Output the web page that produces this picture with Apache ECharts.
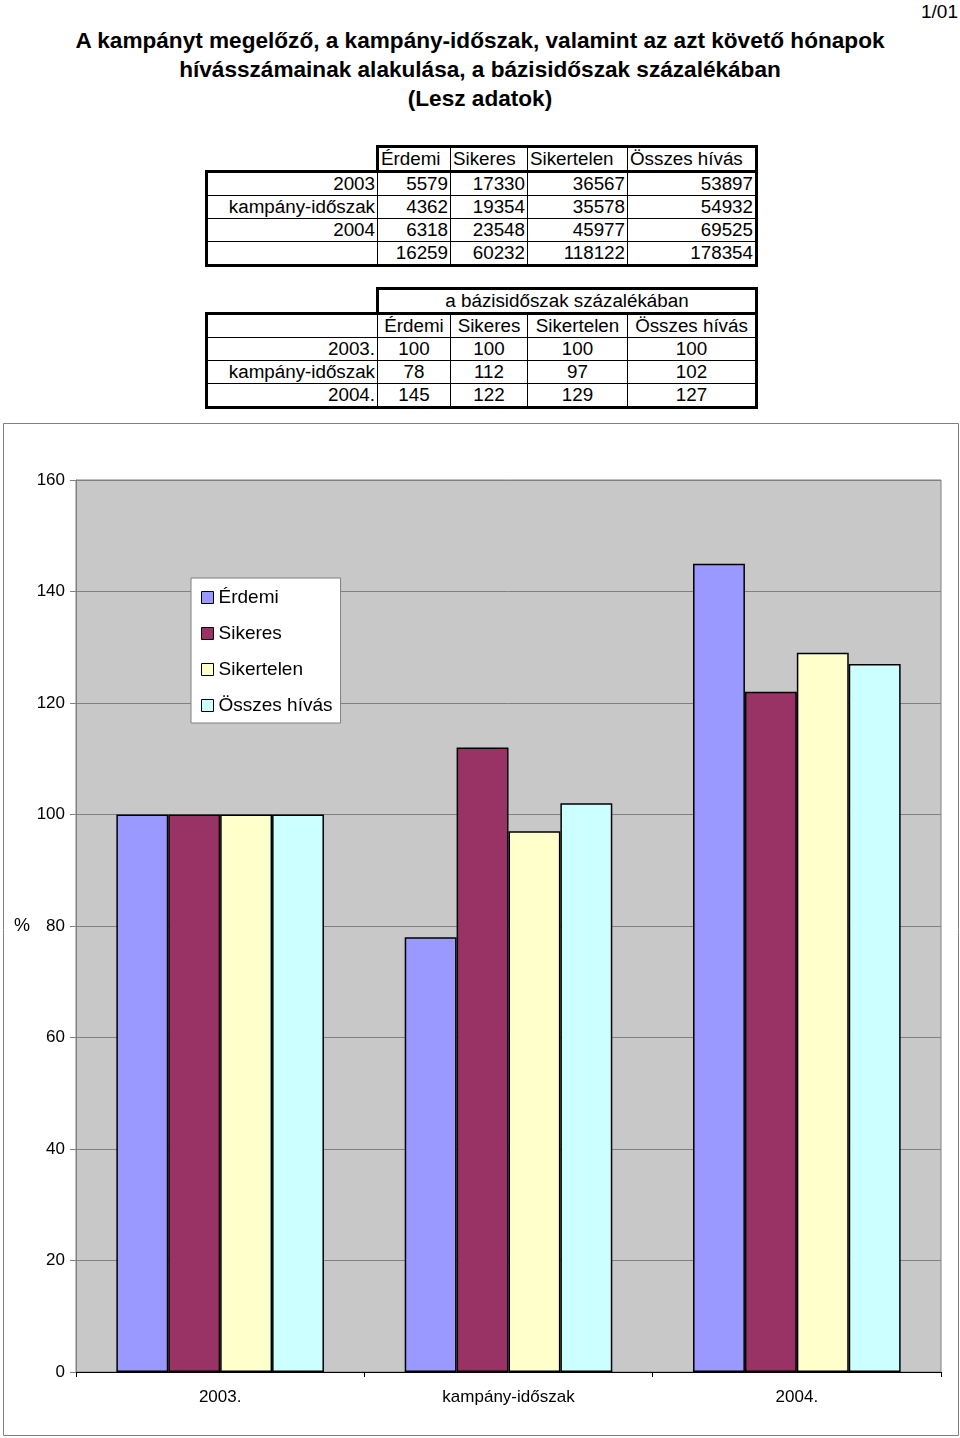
<!DOCTYPE html>
<html lang="hu">
<head>
<meta charset="utf-8">
<title>Lesz adatok</title>
<script src="https://cdn.jsdelivr.net/npm/echarts@6/dist/echarts.min.js"></script>
<style>
  body { margin: 0; background: #fff; font-family: "Liberation Sans", Arial, sans-serif; color: #000; }
  .page { position: relative; width: 960px; height: 1438px; overflow: hidden; }
  .pageno { position: absolute; right: 2px; top: 1px; font-size: 19px; }
  .title { position: absolute; left: 0; top: 26px; width: 960px; text-align: center;
           font-weight: bold; font-size: 22.6px; line-height: 29px; }
  table.grid { position: absolute; left: 205px; border-collapse: collapse; font-size: 18.8px; }
  table.grid td { border: 1px solid #000; padding: 0 2px; height: 22px; line-height: 22px; white-space: nowrap; }
  table.grid td.blank { border: none; }
  table.grid td.lab { text-align: right; }
  #raw { top: 145px; }
  #raw td.num { text-align: right; }
  #raw td.head { text-align: left; }
  #pct { top: 287px; }
  #pct td { text-align: center; }
  #pct td.lab { text-align: right; }
  #chart { position: absolute; left: 0; top: 420px; width: 960px; height: 1018px; }
</style>
</head>
<body>
<div class="page">
  <div class="pageno">1/01</div>
  <div class="title">
    A kampányt megelőző, a kampány-időszak, valamint az azt követő hónapok<br>
    hívásszámainak alakulása, a bázisidőszak százalékában<br>
    (Lesz adatok)
  </div>
  <table class="grid" id="raw"></table>
  <table class="grid" id="pct"></table>
  <div id="chart"></div>
</div>
<script>
// nyers hívásszámok
const rawLabels = ['2003', 'kampány-időszak', '2004', ''];
const rawErdemi = [5579, 4362, 6318, 16259];
const rawSikeres = [17330, 19354, 23548, 60232];
const rawSikertelen = [36567, 35578, 45977, 118122];
const rawOsszes = [53897, 54932, 69525, 178354];

// a bázisidőszak százalékában
const seriesNames = ['Érdemi', 'Sikeres', 'Sikertelen', 'Összes hívás'];
const categories = ['2003.', 'kampány-időszak', '2004.'];
const erdemi = [100, 78, 145];
const sikeres = [100, 112, 122];
const sikertelen = [100, 97, 129];
const osszes = [100, 102, 127];
const yTicks = [0, 20, 40, 60, 80, 100, 120, 140, 160];

const colors = ['#9999ff', '#993366', '#ffffcc', '#ccffff'];
const colWidths = [171, 73, 77, 100, 129];
const THICK = '3px solid #000';

function colgroup(table) {
  const cg = document.createElement('colgroup');
  colWidths.forEach((w) => {
    const c = document.createElement('col');
    c.style.width = w + 'px';
    cg.appendChild(c);
  });
  table.appendChild(cg);
}

function cell(tr, text, cls) {
  const td = document.createElement('td');
  td.textContent = text;
  if (cls) td.className = cls;
  tr.appendChild(td);
  return td;
}

function buildRaw() {
  const t = document.getElementById('raw');
  colgroup(t);
  const head = document.createElement('tr');
  cell(head, '', 'blank');
  seriesNames.forEach((n, i) => {
    const td = cell(head, n, 'head');
    td.style.borderTop = THICK;
    td.style.borderBottom = THICK;
    if (i === 0) td.style.borderLeft = THICK;
    if (i === seriesNames.length - 1) td.style.borderRight = THICK;
  });
  t.appendChild(head);
  const cols = [rawErdemi, rawSikeres, rawSikertelen, rawOsszes];
  rawLabels.forEach((lab, r) => {
    const tr = document.createElement('tr');
    const l = cell(tr, lab, 'lab');
    l.style.borderLeft = THICK;
    cols.forEach((c, i) => {
      const td = cell(tr, c[r], 'num');
      if (i === cols.length - 1) td.style.borderRight = THICK;
    });
    if (r === 0) [...tr.children].forEach((td) => (td.style.borderTop = THICK));
    if (r === rawLabels.length - 1) [...tr.children].forEach((td) => (td.style.borderBottom = THICK));
    t.appendChild(tr);
  });
}

function buildPct() {
  const t = document.getElementById('pct');
  colgroup(t);
  const top = document.createElement('tr');
  cell(top, '', 'blank');
  const span = cell(top, 'a bázisidőszak százalékában');
  span.colSpan = 4;
  span.style.border = THICK;
  t.appendChild(top);

  const head = document.createElement('tr');
  const hl = cell(head, '', 'lab');
  hl.style.borderLeft = THICK;
  hl.style.borderTop = THICK;
  seriesNames.forEach((n, i) => {
    const td = cell(head, n);
    td.style.borderTop = THICK;
    if (i === seriesNames.length - 1) td.style.borderRight = THICK;
  });
  t.appendChild(head);

  const cols = [erdemi, sikeres, sikertelen, osszes];
  categories.forEach((lab, r) => {
    const tr = document.createElement('tr');
    const l = cell(tr, lab, 'lab');
    l.style.borderLeft = THICK;
    cols.forEach((c, i) => {
      const td = cell(tr, c[r]);
      if (i === cols.length - 1) td.style.borderRight = THICK;
    });
    if (r === categories.length - 1) [...tr.children].forEach((td) => (td.style.borderBottom = THICK));
    t.appendChild(tr);
  });
}

buildRaw();
buildPct();

const chart = echarts.init(document.getElementById('chart'));
const values = [erdemi, sikeres, sikertelen, osszes];

chart.setOption({
  animation: false,
  textStyle: { fontFamily: 'Liberation Sans, Arial, sans-serif', color: '#000' },
  graphic: [
    {
      type: 'rect',
      shape: { x: 3.5, y: 3.5, width: 955, height: 1012 },
      style: { fill: 'none', stroke: '#808080', lineWidth: 1 },
      silent: true
    }
  ],
  grid: {
    left: 76, right: 19, top: 60, bottom: 66,
    show: true,
    backgroundColor: '#c8c8c8',
    borderColor: '#808080',
    borderWidth: 1
  },
  legend: {
    orient: 'vertical',
    left: 191,
    top: 158,
    padding: [10, 8, 8, 10],
    backgroundColor: '#fff',
    borderColor: '#808080',
    borderWidth: 1,
    borderRadius: 0,
    itemWidth: 12,
    itemHeight: 12,
    itemGap: 17,
    icon: 'rect',
    data: seriesNames,
    itemStyle: { borderColor: '#000', borderWidth: 1 },
    textStyle: { fontSize: 19, color: '#000' }
  },
  xAxis: {
    type: 'category',
    data: categories,
    axisLine: { lineStyle: { color: '#000', width: 1 } },
    axisTick: { show: true, length: 5, lineStyle: { color: '#000' } },
    axisLabel: { fontSize: 17, color: '#000', margin: 17 }
  },
  yAxis: {
    type: 'value',
    min: 0,
    max: 160,
    interval: 20,
    name: '%',
    nameLocation: 'middle',
    nameRotate: 0,
    nameGap: 46,
    nameTextStyle: { fontSize: 18, color: '#000' },
    axisLine: { show: true, lineStyle: { color: '#808080' } },
    axisTick: { show: true, length: 6, lineStyle: { color: '#808080' } },
    axisLabel: {
      fontSize: 17,
      color: '#000',
      margin: 11,
      formatter: (v) => (yTicks.includes(v) ? String(v) : '')
    },
    splitLine: { lineStyle: { color: '#808080', width: 1 } }
  },
  series: seriesNames.map((name, i) => ({
    name,
    type: 'bar',
    data: values[i],
    barGap: '0%',
    barCategoryGap: '28%',
    itemStyle: { color: colors[i], borderColor: '#000', borderWidth: 1.5 }
  }))
});
</script>
</body>
</html>
